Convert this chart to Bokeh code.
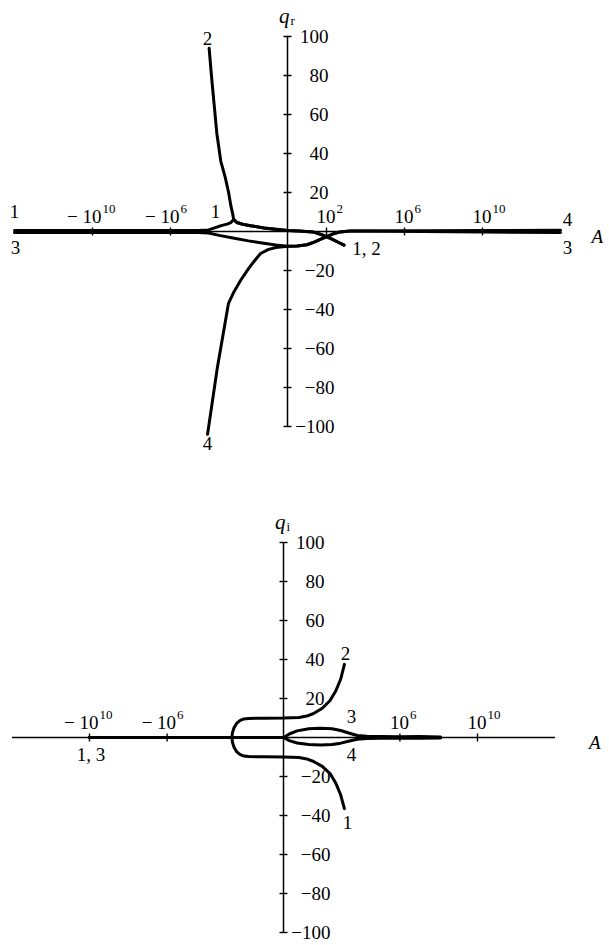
import numpy as np
from bokeh.plotting import figure
from bokeh.layouts import column
from bokeh.models import Range1d
from bokeh.core.properties import value
from bokeh.embed import file_html
from bokeh.resources import INLINE

# Horizontal coordinate u = sign(A) * log10|A|  (logarithmic A axis on both sides of 0)

# ---------------- q_r (real part) ----------------
qr1_u = [-14.0, -10.0, -6.0, -4.6, -4.05, -3.7, -3.4, -3.1, -2.9, -2.76]
qr1_q = [0.5, 0.5, 0.5, 0.5, 0.8, 2.0, 3.0, 3.8, 4.6, 6.2]
qr2_u = [-4.02, -3.9, -3.78, -3.62, -3.42, -3.2, -3.02, -2.9, -2.8, -2.76]
qr2_q = [94, 80, 67, 50, 36, 28, 20, 13, 8.5, 6.2]
qr12_u = [-2.76, -2.6, -2.3, -1.9, -1.2, -0.5, 0.0, 0.6, 1.3, 1.8, 2.2, 2.6, 2.9]
qr12_q = [6.2, 4.6, 3.7, 3.0, 1.8, 1.0, 0.5, 0.3, -0.2, -1.8, -3.5, -5.5, -7.0]
qr3_u = [-14.0, -10.0, -6.0, -4.6, -4.05, -3.5, -2.8, -2.0, -1.3, -0.6, 0.0]
qr3_q = [-0.5, -0.5, -0.5, -0.5, -0.8, -2.0, -3.3, -4.8, -5.9, -6.9, -7.6]
qr4_u = [-4.1, -3.6, -3.03, -2.75, -2.4, -2.0, -1.65, -1.38, -1.0, -0.6, 0.0]
qr4_q = [-104, -70, -37, -31, -25, -19, -14.5, -11.3, -9.3, -8.2, -7.6]
qr34_u = [0.0, 0.5, 1.0, 1.4, 1.8, 2.1, 2.4, 2.7, 3.2, 4.0]
qr34_q = [-7.6, -7.4, -6.8, -5.3, -3.5, -2.2, -1.0, -0.2, 0.2, 0.2]
qr3_tail_u = [4.0, 7.0, 10.0, 14.0]
qr3_tail_q = [0.2, 0.0, -0.3, -0.5]
qr4_tail_u = [4.0, 7.0, 10.0, 14.0]
qr4_tail_q = [0.2, 0.4, 0.5, 0.6]

# ---------------- q_i (imaginary part) ----------------
qi2_u = [-10.0, -6.0, -2.66, -2.63, -2.55, -2.42, -2.25, -2.05, -1.8, -1.0,
         0.0, 0.8, 1.2, 1.55, 2.0, 2.4, 2.7, 2.95, 3.14]
qi2_q = [0, 0, 0, 2.5, 5.0, 7.2, 8.7, 9.5, 9.8, 9.9,
         10.0, 10.3, 11.0, 12.3, 15.0, 19.0, 24.0, 30.0, 37.5]
qi1_u = qi2_u
qi1_q = [0, 0, 0, -2.5, -5.0, -7.2, -8.7, -9.5, -9.8, -9.9,
         -10.0, -10.3, -11.0, -12.3, -14.8, -18.5, -23.5, -29.5, -36.5]
qi3_u = [-10.0, -6.0, -2.0, 0.0, 0.3, 0.7, 1.3, 1.9, 2.5, 2.95, 3.4, 3.8, 4.3, 5.0, 6.0, 7.0, 8.1]
qi3_q = [0, 0, 0, 0, 1.8, 3.4, 4.5, 4.8, 4.5, 3.6, 2.2, 1.0, 0.6, 0.5, 0.4, 0.5, 0.2]
qi4_u = qi3_u
qi4_q = [0, 0, 0, 0, -1.6, -2.8, -3.6, -3.9, -3.6, -2.9, -1.8, -0.9, -0.5, -0.4, -0.4, -0.4, -0.2]

# ---------------- axes ----------------
q_ticks = [100, 80, 60, 40, 20, -20, -40, -60, -80, -100]
a_ticks_top_sign = [-1, -1, 1, 1, 1]
a_ticks_top_exp = [10, 6, 2, 6, 10]
a_ticks_bot_sign = [-1, -1, 1, 1]
a_ticks_bot_exp = [10, 6, 6, 10]
A_LIM = 14.0
Q_LIM = 100

FONT = value("Liberation Serif")
W = 609


def panel(height, xr, yr):
    p = figure(width=W, height=height, x_range=Range1d(*xr), y_range=Range1d(*yr),
               output_backend="svg", toolbar_location=None,
               x_axis_location=None, y_axis_location=None, min_border=0)
    p.grid.visible = False
    p.outline_line_color = None
    p.background_fill_color = "white"
    p.border_fill_color = "white"
    return p


def draw_axes(p, signs, exps, sym, a_dx):
    p.segment(x0=[-A_LIM, 0], y0=[0, -Q_LIM], x1=[A_LIM, 0], y1=[0, Q_LIM],
              line_color="black", line_width=1.5)
    p.scatter(x=[0] * len(q_ticks), y=q_ticks, marker="dash", size=8,
              line_color="black", line_width=1.4)
    u_ticks = [s * e for s, e in zip(signs, exps)]
    p.scatter(x=u_ticks, y=[0] * len(u_ticks), marker="dash", size=8, angle=np.pi / 2,
              line_color="black", line_width=1.4)
    pos = [t for t in q_ticks if t > 0]
    neg = [t for t in q_ticks if t < 0]
    p.text(x=[0] * len(pos), y=pos, text=[str(t) for t in pos], x_offset=41,
           text_align="right", text_baseline="middle", text_font=FONT,
           text_font_size="19px", text_color="black")
    p.text(x=[0] * len(neg), y=neg, text=["\u2212" + str(-t) for t in neg], x_offset=47,
           text_align="right", text_baseline="middle", text_font=FONT,
           text_font_size="19px", text_color="black")
    base = [("\u2212 10" if s < 0 else "10") for s in signs]
    p.text(x=u_ticks, y=[0] * len(u_ticks), text=base, x_offset=9, y_offset=-15,
           text_align="right", text_baseline="alphabetic", text_font=FONT,
           text_font_size="19px", text_color="black")
    p.text(x=u_ticks, y=[0] * len(u_ticks), text=[str(e) for e in exps], x_offset=10,
           y_offset=-23, text_align="left", text_baseline="alphabetic", text_font=FONT,
           text_font_size="13px", text_color="black")
    # axis names
    p.text(x=[0], y=[Q_LIM], text=["q"], x_offset=2, y_offset=-21, text_align="right",
           text_baseline="middle", text_font=FONT, text_font_size="21px",
           text_font_style="italic", text_color="black")
    p.text(x=[0], y=[Q_LIM], text=[sym], x_offset=3, y_offset=-16, text_align="left",
           text_baseline="middle", text_font=FONT, text_font_size="13px", text_color="black")
    p.text(x=[A_LIM], y=[0], text=["A"], x_offset=a_dx, y_offset=5, text_align="left",
           text_baseline="middle", text_font=FONT, text_font_size="19px",
           text_font_style="italic", text_color="black")


def curve(p, u, q):
    p.line(u, q, line_color="black", line_width=3.0, line_join="round", line_cap="round")


def labels(p, u, q, txt):
    p.text(x=u, y=q, text=txt, text_align="center", text_baseline="middle",
           text_font=FONT, text_font_size="19px", text_color="black")


# ---- top panel: q_r ----
H1, H2 = 475, 470
p1 = panel(H1, (-287 / 19.5, (W - 287) / 19.5), (-(H1 - 231) / 1.95, 231 / 1.95))
draw_axes(p1, a_ticks_top_sign, a_ticks_top_exp, "r", 31)
curve(p1, qr1_u + qr12_u, qr1_q + qr12_q)
curve(p1, qr2_u + qr12_u, qr2_q + qr12_q)
curve(p1, qr3_u + qr34_u + qr3_tail_u, qr3_q + qr34_q + qr3_tail_q)
curve(p1, qr4_u + qr34_u + qr4_tail_u, qr4_q + qr34_q + qr4_tail_q)
labels(p1, [-14.0, -13.95, -3.69, -4.1, 14.36, 14.36, 4.05, -4.1],
       [10.3, -8.2, 10.3, 99, 6.2, -8.2, -8.7, -108.7],
       ["1", "3", "1", "2", "4", "3", "1, 2", "4"])

# ---- bottom panel: q_i ----
y0 = 737 - H1
p2 = panel(H2, (-283 / 19.4, (W - 283) / 19.4), (-(H2 - y0) / 1.95, y0 / 1.95))
draw_axes(p2, a_ticks_bot_sign, a_ticks_bot_exp, "i", 34)
curve(p2, qi1_u, qi1_q)
curve(p2, qi2_u, qi2_q)
curve(p2, qi3_u, qi3_q)
curve(p2, qi4_u, qi4_q)
labels(p2, [-9.92, 3.2, 3.5, 3.5, 3.3], [-8.7, 43, 10.8, -8.7, -43.6],
       ["1, 3", "2", "3", "4", "1"])

layout = column(p1, p2, spacing=0)
open("out.html", "w").write(file_html(layout, INLINE))
